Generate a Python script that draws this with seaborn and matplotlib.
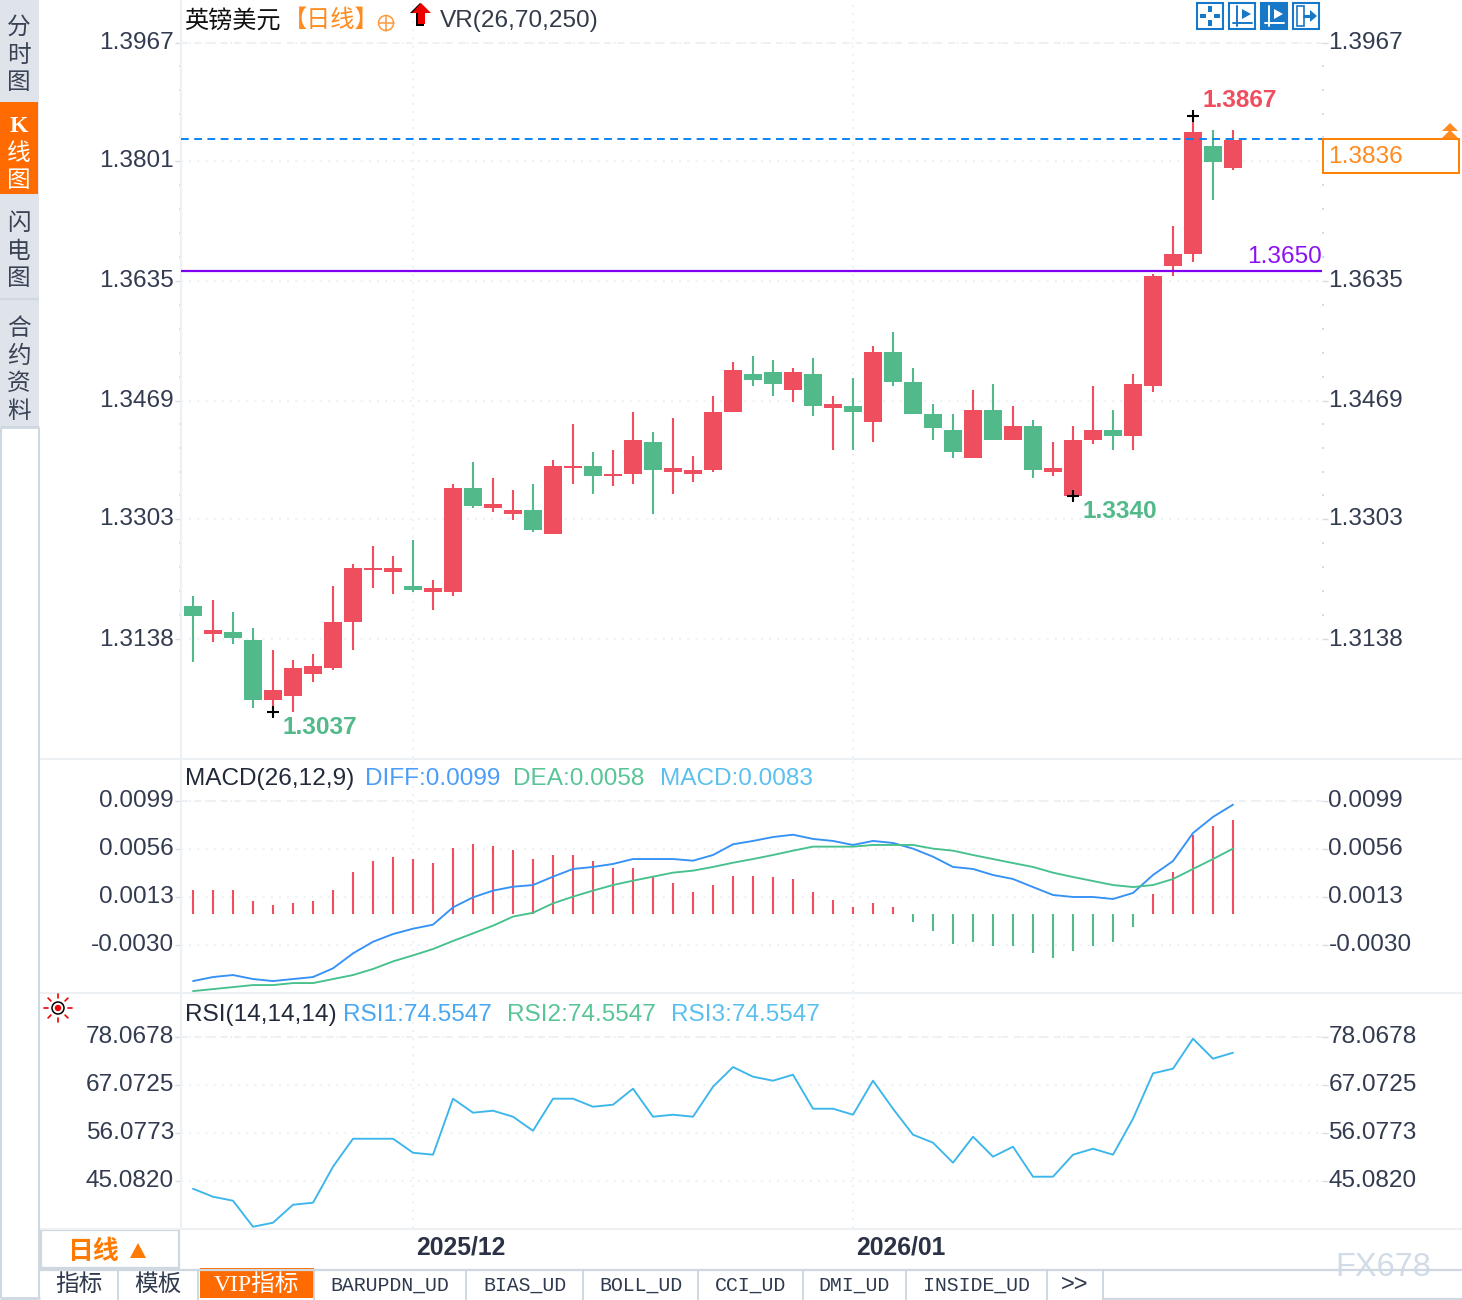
import math
import numpy as np
import pandas as pd
import seaborn as sns
import matplotlib
matplotlib.use("Agg")
import matplotlib.pyplot as plt
from matplotlib.patches import Rectangle, Circle, Polygon
from matplotlib.transforms import ScaledTranslation

# ---------- data ----------
open_ = [1.31850,1.31463,1.31491,1.31380,1.30550,1.30605,1.30910,1.30993,1.31629,1.32348,1.32321,1.32127,1.32044,
         1.32044,1.33483,1.33206,1.33123,1.33178,1.32846,1.33759,1.33787,1.33648,1.33676,1.34119,1.33704,1.33676,
         1.33731,1.34534,1.35059,1.35087,1.34838,1.35059,1.34589,1.34617,1.34395,1.35364,1.34949,1.34506,1.34285,
         1.33898,1.34561,1.34146,1.34340,1.33704,1.33372,1.34146,1.34285,1.34202,1.34893,1.36553,1.36719,1.38213,1.37909]
high = [1.31988,1.31933,1.31767,1.31546,1.31242,1.31103,1.31186,1.32127,1.32431,1.32680,1.32542,1.32763,1.32210,
        1.33538,1.33842,1.33621,1.33455,1.33538,1.33870,1.34368,1.33980,1.34008,1.34534,1.34257,1.34451,1.33925,
        1.34755,1.35225,1.35308,1.35253,1.35142,1.35281,1.34755,1.35004,1.35447,1.35640,1.35142,1.34644,1.34506,
        1.34838,1.34921,1.34617,1.34423,1.34119,1.34340,1.34893,1.34561,1.35059,1.36443,1.37107,1.38628,1.38435,1.38435]
low = [1.31076,1.31352,1.31325,1.30439,1.30384,1.30384,1.30799,1.30965,1.31242,1.32099,1.32016,1.32044,1.31795,
       1.31988,1.33206,1.33151,1.33040,1.32874,1.32846,1.33538,1.33399,1.33510,1.33538,1.33123,1.33399,1.33565,
       1.33704,1.34534,1.34893,1.34755,1.34672,1.34478,1.34008,1.34008,1.34119,1.34893,1.34506,1.34146,1.33898,
       1.33898,1.34146,1.34146,1.33621,1.33648,1.33372,1.34091,1.34008,1.34008,1.34810,1.36415,1.36609,1.37466,1.37881]
close = [1.31712,1.31518,1.31408,1.30550,1.30688,1.30993,1.31020,1.31629,1.32376,1.32376,1.32376,1.32072,1.32099,
         1.33483,1.33233,1.33261,1.33178,1.32902,1.33787,1.33787,1.33648,1.33676,1.34146,1.33731,1.33759,1.33731,
         1.34534,1.35115,1.34976,1.34921,1.35087,1.34617,1.34644,1.34534,1.35364,1.34949,1.34506,1.34313,1.33980,
         1.34561,1.34146,1.34340,1.33731,1.33759,1.34146,1.34285,1.34202,1.34921,1.36415,1.36719,1.38407,1.37992,1.38296]
last_price = 1.38310
level_price = 1.36488
price_ticks = [1.39642,1.38010,1.36350,1.34690,1.33054,1.31394]
price_labels = ["1.3967","1.3801","1.3635","1.3469","1.3303","1.3138"]
price_labels_right = ["1.3967","","1.3635","1.3469","1.3303","1.3138"]

diff = [-.00605,-.00569,-.00551,-.00587,-.00605,-.00587,-.00569,-.00491,-.00357,-.00253,-.00184,-.00136,-.00100,
        .00055,.00145,.00205,.00240,.00255,.00330,.00399,.00417,.00444,.00488,.00488,.00488,.00473,.00524,
        .00620,.00650,.00685,.00706,.00668,.00650,.00614,.00650,.00632,.00581,.00509,.00417,.00399,.00345,
        .00309,.00237,.00166,.00148,.00148,.00130,.00184,.00345,.00470,.00721,.00865,.00975]
dea = [-.00695,-.00677,-.00659,-.00641,-.00641,-.00623,-.00623,-.00587,-.00551,-.00497,-.00429,-.00375,-.00318,
       -.00246,-.00178,-.00109,-.00028,.00007,.00091,.00151,.00205,.00255,.00294,.00330,.00366,.00384,.00417,
       .00455,.00488,.00524,.00563,.00599,.00599,.00599,.00614,.00614,.00614,.00581,.00563,.00524,.00488,
       .00452,.00417,.00366,.00327,.00291,.00255,.00237,.00255,.00309,.00399,.00488,.00581]
macd = [.00215,.00215,.00215,.00108,.00072,.00090,.00108,.00215,.00376,.00466,.00502,.00484,.00448,
        .00591,.00627,.00609,.00573,.00484,.00520,.00520,.00466,.00412,.00412,.00340,.00269,.00197,.00251,
        .00340,.00340,.00323,.00305,.00197,.00125,.00054,.00090,.00054,-.00072,-.00161,-.00269,-.00251,-.00287,
        -.00287,-.00358,-.00394,-.00340,-.00287,-.00251,-.00125,.00179,.00376,.00699,.00788,.00842]
macd_ticks = [.01011,.00581,.00151,-.00279]
macd_labels = ["0.0099","0.0056","0.0013","-0.0030"]

rsi = [43.25,41.41,40.50,34.54,35.46,39.58,40.04,48.29,54.70,54.70,54.70,51.49,51.04,
       63.87,60.66,61.12,59.74,56.53,63.87,63.87,62.03,62.49,66.16,59.74,60.20,59.74,66.61,
       71.12,68.91,67.99,69.36,61.57,61.57,60.20,67.99,61.57,55.62,53.79,49.20,55.16,50.58,
       52.87,46.00,46.00,51.04,52.41,51.04,59.28,69.67,70.74,77.61,73.03,74.40]
rsi_ticks = [78.0678,67.0725,56.0773,45.0820]
rsi_labels = ["78.0678","67.0725","56.0773","45.0820"]

date_positions = [11, 33]
date_labels = ["2025/12", "2026/01"]
side_tabs = [("分时图", 26), ("K线图", 124), ("闪电图", 222), ("合约资料", 327)]
bottom_tabs = ["指标","模板","VIP指标","BARUPDN_UD","BIAS_UD","BOLL_UD","CCI_UD","DMI_UD","INSIDE_UD",">>"]

# ---------- style ----------
RED, GREEN = "#EF4E5F", "#52BA8A"
GRID, RULE = "#EEF1F4", "#CFD8E0"
INK = "#323B50"
LABEL = 17.6
sns.set_theme(style="white")
FAM = ["Liberation Sans", "Noto Sans CJK SC", "DejaVu Sans"]
plt.rcParams["font.family"] = FAM

W, H = 1462, 1300
fig = plt.figure(figsize=(W/100, H/100), dpi=100, facecolor="white")
def box(x0, y0, x1, y1):
    return [x0/W, 1-y1/H, (x1-x0)/W, (y1-y0)/H]

idx = np.arange(len(close))
XL = (-0.6, 56.45)
df = pd.DataFrame(dict(i=idx, diff=diff, dea=dea, rsi=rsi))

def panel(y0, y1, ylim, ticks, labels, right_labels=None):
    ax = fig.add_axes(box(181, y0, 1322, y1))
    ax.set_xlim(*XL); ax.set_ylim(*ylim)
    for s in ["top", "right", "bottom"]:
        ax.spines[s].set_visible(False)
    ax.spines["left"].set_color(GRID); ax.spines["left"].set_linewidth(1.6)
    ax.set_yticks(ticks); ax.set_yticklabels(labels)
    ax.set_xticks(date_positions); ax.set_xticklabels([])
    ax.tick_params(axis="x", length=0)
    ax.tick_params(axis="y", which="major", length=4.4, width=1, color="#D5DCE4", pad=0.6,
                   labelsize=LABEL, labelcolor=INK, left=True)
    ax.grid(True, axis="both", color=GRID, lw=1.4, ls=(0, (1, 3.2)))
    ax.set_axisbelow(True)
    for lab in ax.get_yticklabels():
        lab.set_transform(lab.get_transform() + ScaledTranslation(0, 2/100, fig.dpi_scale_trans))
    ax.axhline(ticks[0], color=GRID, lw=1.4, ls=(0, (3.6, 3.2)), zorder=1)
    tw = ax.twinx()
    tw.set_ylim(*ylim)
    for s in tw.spines.values():
        s.set_visible(False)
    tw.set_yticks(ticks); tw.set_yticklabels(right_labels or labels)
    tw.tick_params(axis="y", length=4.4, width=1, color="#D5DCE4", pad=0.2, labelsize=LABEL, labelcolor=INK)
    for lab in tw.get_yticklabels():
        lab.set_transform(lab.get_transform() + ScaledTranslation(0, 2/100, fig.dpi_scale_trans))
    tw.grid(False)
    return ax, tw

# ---------- price panel ----------
ax1, tw1 = panel(0, 758, (1.29748, 1.40233), price_ticks, price_labels, price_labels_right)
for a in (ax1, tw1):
    minor = [t for k in range(len(price_ticks)-1)
             for t in np.linspace(price_ticks[k], price_ticks[k+1], 6)[1:-1]]
    a.set_yticks(minor, minor=True)
    a.tick_params(axis="y", which="minor", length=1.6, width=1.4, color="#D5DCE4")
ups = np.array(close) >= np.array(open_)
colors = np.where(ups, RED, GREEN)
ax1.vlines(idx, low, high, colors=colors, lw=1.5, zorder=3)
ax1.bar(idx, np.abs(np.array(close)-np.array(open_)), bottom=np.minimum(open_, close),
        width=0.9, color=colors, lw=0, zorder=3)
ax1.axhline(last_price, color="#0A84F5", lw=1.4, ls=(0, (4, 2.8)), zorder=4)
ax1.axhline(level_price, color="#8000F0", lw=1.6, zorder=5)

hi_i = int(np.argmax(high))
lo_global = 4; lo_local = 44
for i, v, txt_, col, dy in [(hi_i, high[hi_i], "1.3867", RED, 16),
                            (lo_local, low[lo_local], "1.3340", GREEN, -15),
                            (lo_global, low[lo_global], "1.3037", GREEN, -15)]:
    ax1.plot([i], [v], marker="+", ms=9, mew=1.5, color="black", zorder=6, ls="none")
    ax1.annotate(txt_, (i, v), xytext=(7.2, dy*0.72), textcoords="offset points",
                 fontsize=LABEL, color=col, va="center", ha="left", fontweight="bold", zorder=7)
ax1.annotate("1.3650", (1.0, level_price), xycoords=ax1.get_yaxis_transform(), xytext=(0, 2.2),
             textcoords="offset points", ha="right", va="bottom", fontsize=LABEL, color="#8C10F5", zorder=7)

# ---------- MACD panel ----------
ax2, tw2 = panel(760, 992, (-.00703, .01375), macd_ticks, macd_labels)
ax2.vlines(idx, 0, macd, colors=np.where(np.array(macd) >= 0, RED, GREEN), lw=1.5, zorder=3)
sns.lineplot(data=df, x="i", y="diff", ax=ax2, color="#3491F5", lw=1.35, errorbar=None, zorder=4)
sns.lineplot(data=df, x="i", y="dea", ax=ax2, color="#46C08C", lw=1.35, errorbar=None, zorder=4)
ax2.set_xlabel(""); ax2.set_ylabel("")

# ---------- RSI panel ----------
ax3, tw3 = panel(994, 1228, (34.25, 87.85), rsi_ticks, rsi_labels)
sns.lineplot(data=df, x="i", y="rsi", ax=ax3, color="#3BB6EA", lw=1.35, errorbar=None, zorder=4)
ax3.set_ylabel(""); ax3.set_xlabel("")
ax3.set_xticklabels(date_labels)
ax3.tick_params(axis="x", length=8, width=1, color=RULE, pad=-2.8, labelsize=17.8, labelcolor="#2B3245")
for lab in ax3.get_xticklabels():
    lab.set_ha("left"); lab.set_fontweight("bold")
    lab.set_transform(lab.get_transform() + ScaledTranslation(3/100, 0, fig.dpi_scale_trans))

# ---------- interface chrome (pixel coordinates) ----------
ui = fig.add_axes([0, 0, 1, 1], zorder=10)
ui.set_xlim(0, W); ui.set_ylim(H, 0); ui.axis("off"); ui.patch.set_alpha(0)
def rect(x0, y0, x1, y1, fc="none", ec="none", lw=0):
    ui.add_patch(Rectangle((x0, y0), x1-x0, y1-y0, fc=fc, ec=ec, lw=lw))
def txt(x, y, s, size=LABEL, color=INK, ha="left", va="center", **kw):
    return ui.text(x, y, s, fontsize=size, color=color, ha=ha, va=va, **kw)
def hl(y, x0, x1, c=GRID, w=1.5):
    ui.plot([x0, x1], [y, y], color=c, lw=w, solid_capstyle="butt")
def vl(x, y0, y1, c=RULE, w=1.5):
    ui.plot([x, x], [y0, y1], color=c, lw=w, solid_capstyle="butt")

# left rail
rect(0, 0, 39, 428, fc="#DFE3EA")
rect(0, 102, 38, 194, fc="#FF6B00")
hl(299, 0, 39, RULE, 1.5); hl(427, 0, 39, RULE, 2)
vl(1, 428, 1298); vl(39, 428, 1298); hl(1298, 0, 40, RULE, 2)
for label, y0 in side_tabs:
    step = 27.6
    for k, ch in enumerate(label):
        col = "white" if label.startswith("K") else "#3A4356"
        txt(19, y0 + 2 + k*step, ch, size=17, color=col, ha="center",
            family="Liberation Serif" if ch == "K" else FAM,
            fontweight="bold" if ch == "K" else "normal")

# separators
hl(759, 40, W); hl(993, 40, W); hl(1229, 40, W)

# header
txt(184, 21, "英镑美元", color="#111111", size=17.4)
txt(283, 21, "【日线】", color="#FF8A1E", size=17.4)
ui.add_patch(Circle((386, 23), 7.5, fc="none", ec="#FF9A3C", lw=1.1))
ui.plot([378.5, 393.5], [23, 23], color="#FF9A3C", lw=1.1); ui.plot([386, 386], [15.5, 30.5], color="#FF9A3C", lw=1.1)
ui.add_patch(Polygon([(410, 13), (420, 3), (430, 13), (424, 13), (424, 26), (416, 26), (416, 13)], fc="black", ec="none"))
ui.add_patch(Polygon([(412, 13), (421, 3), (431, 13), (425, 13), (425, 24), (418, 24), (418, 13)], fc="#EE0000", ec="none"))
txt(440, 21, "VR(26,70,250)", color="#333A4A")

# toolbar icons
BL = "#1878C8"
for n, x0 in enumerate([1197, 1229, 1261, 1293]):
    rect(x0, 3, x0+26, 29, fc=BL if n == 2 else "white", ec=BL, lw=1.5)
    c = "white" if n == 2 else BL
    cx, cy = x0+13, 16
    if n == 0:
        for dx, dy in [(-7, 0), (7, 0), (0, -7), (0, 7)]:
            rect(cx+dx-(3 if dy == 0 else 2), cy+dy-(2 if dy == 0 else 3), cx+dx+(3 if dy == 0 else 2), cy+dy+(2 if dy == 0 else 3), fc=c)
    elif n < 3:
        ui.plot([x0+8, x0+8], [6, 26], color=c, lw=1.4)
        ui.plot([x0+4, x0+23], [23, 23], color=c, lw=1.4)
        ui.add_patch(Polygon([(x0+13, 9), (x0+22, 14), (x0+13, 19)], fc=c, ec="none"))
    else:
        rect(x0+4, 6, x0+11, 26, ec=c, lw=1.2)
        ui.plot([x0+11, x0+18], [16, 16], color=c, lw=2.2)
        ui.add_patch(Polygon([(x0+17, 10), (x0+24, 16), (x0+17, 22)], fc=c, ec="none"))

# last price box
rect(1323, 139, 1459, 173, fc="white", ec="#FF7F00", lw=1.4)
txt(1328, 157, "1.3836", color="#FF8A1E")
for yy in (123, 130):
    ui.add_patch(Polygon([(1442, yy+8), (1450, yy), (1458, yy+8)], fc="#FF8A1E", ec="none"))

# MACD title
for x, s, c in [(185, "MACD(26,12,9)", "#222A3A"), (365, "DIFF:0.0099", "#4B9DF8"),
                (513, "DEA:0.0058", "#58C596"), (660, "MACD:0.0083", "#5BC0EE")]:
    txt(x, 779, s, color=c)
# RSI title
for x, s, c in [(185, "RSI(14,14,14)", "#222A3A"), (343, "RSI1:74.5547", "#4BA8F0"),
                (507, "RSI2:74.5547", "#58C596"), (671, "RSI3:74.5547", "#5BC0EE")]:
    txt(x, 1015, s, color=c)

# sun icon
ui.add_patch(Circle((58, 1008), 6, fc="white", ec="black", lw=1.1))
ui.add_patch(Circle((58, 1008), 3.2, fc="#EE0000", ec="none"))
for k in range(8):
    a = k*math.pi/4
    ui.plot([58+10*math.cos(a), 58+14*math.cos(a)], [1008+10*math.sin(a), 1008+14*math.sin(a)],
            color="#EE0000", lw=1.2)

# bottom
rect(41, 1230, 179, 1268, fc="white", ec=RULE, lw=1.6)
txt(67, 1252, "日线", color="#FF7A00", size=18.6, fontweight="bold")
ui.add_patch(Polygon([(130, 1258), (138, 1243), (146, 1258)], fc="#FF7A00", ec="none"))
hl(1269.5, 40, W, RULE, 1.6)
edges = [39, 118, 198, 314, 466, 583, 698, 803, 906, 1047, 1103]
for a, b, s in zip(edges[:-1], edges[1:], bottom_tabs):
    active = s == "VIP指标"
    if active:
        rect(a+2, 1268, b, 1298, fc="#FF6B00")
    vl(b, 1270, 1300, RULE, 1.4)
    cx = (a+b)/2
    mono = s.isascii() and s != ">>"
    if mono:
        txt(cx, 1285, s, size=14.3, color="#2F3A4F", ha="center", family="Liberation Mono")
    elif active:
        txt(cx, 1285, s, size=17, color="white", ha="center", family=["Liberation Serif", "Noto Sans CJK SC"])
    else:
        txt(cx, 1285, s, size=17, color="#2F3A4F", ha="center")
hl(1298.5, 1103, W, RULE, 1.6)
txt(1383, 1267, "FX678", size=23.5, color="#CFDAE6", ha="center", family="Liberation Sans", alpha=0.95)

fig.savefig("out.png", dpi=100)
